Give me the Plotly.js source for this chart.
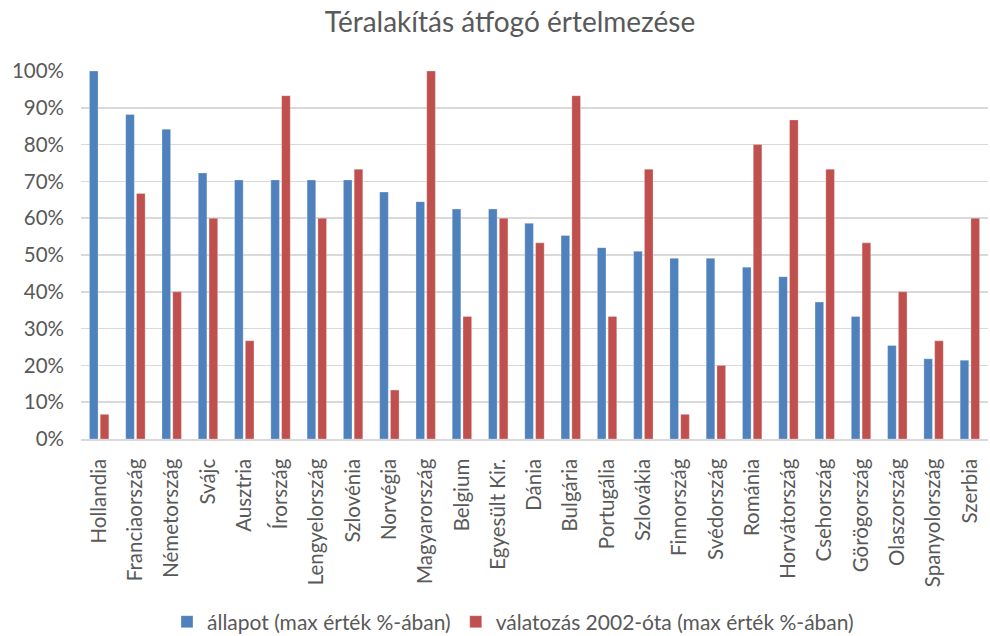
<!DOCTYPE html>
<html>
<head>
<meta charset="utf-8">
<script src="https://cdn.plot.ly/plotly-3.0.1.min.js"></script>
<style>
  html, body { margin: 0; padding: 0; background: #fff; }
  #chart { width: 990px; height: 636px; }
</style>
</head>
<body>
<div id="chart"></div>
<script>
const countries = ["Hollandia", "Franciaország", "Németország", "Svájc", "Ausztria", "Írország",
  "Lengyelország", "Szlovénia", "Norvégia", "Magyarország", "Belgium", "Egyesült Kir.",
  "Dánia", "Bulgária", "Portugália", "Szlovákia", "Finnország", "Svédország", "Románia",
  "Horvátország", "Csehország", "Görögország", "Olaszország", "Spanyolország", "Szerbia"];

const allapot = [1.000, 0.882, 0.842, 0.723, 0.704, 0.704, 0.704, 0.704, 0.671, 0.645, 0.625,
  0.625, 0.586, 0.553, 0.520, 0.510, 0.491, 0.491, 0.467, 0.441, 0.372, 0.333, 0.254, 0.218, 0.214];

const valtozas = [0.067, 0.667, 0.400, 0.600, 0.267, 0.933, 0.600, 0.733, 0.133, 1.000, 0.333,
  0.600, 0.533, 0.933, 0.333, 0.733, 0.067, 0.200, 0.800, 0.867, 0.733, 0.533, 0.400, 0.267, 0.600];

const seriesNames = ["állapot (max érték %-ában)", "válatozás 2002-óta (max érték %-ában)"];
const titleText = "Téralakítás átfogó értelmezése";

const FONT = "Lato, 'Open Sans', sans-serif";
const GREY = "#595959";

const traces = [
  { type: "bar", name: seriesNames[0], x: countries, y: allapot,
    marker: { color: "#4F81BD", line: { color: "rgba(255,255,255,0.35)", width: 0.8 } } },
  { type: "bar", name: seriesNames[1], x: countries, y: valtozas,
    marker: { color: "#C0504D", line: { color: "rgba(255,255,255,0.35)", width: 0.8 } } }
];

const layout = {
  width: 990, height: 636,
  margin: { l: 81, r: 2, t: 71, b: 197 },
  paper_bgcolor: "#fff", plot_bgcolor: "#fff",
  font: { family: FONT, color: GREY, size: 21 },
  title: { text: titleText, x: 510 / 990, xanchor: "center", xref: "container",
           y: 1 - 22 / 636, yref: "container", yanchor: "middle",
           font: { family: FONT, size: 28, color: GREY } },
  barmode: "group", bargap: 0.405, bargroupgap: 0.2,
  xaxis: { tickangle: -90, showgrid: false, showline: true, linecolor: "#d9d9d9", linewidth: 1.5,
           ticks: "", ticklabelstandoff: 10,
           tickfont: { family: FONT, size: 20.5, color: GREY }, automargin: false },
  yaxis: { range: [0, 1], dtick: 0.1, tickformat: ".0%", showgrid: true, gridcolor: "#d9d9d9",
           gridwidth: 1.5, zeroline: false, ticks: "", ticklabelstandoff: 16,
           tickfont: { family: FONT, size: 20.5, color: GREY }, automargin: false },
  legend: { orientation: "h", x: 513 / 990, xanchor: "center", xref: "container",
            y: 0.022, yref: "container", yanchor: "middle",
            font: { family: FONT, size: 21, color: GREY }, itemwidth: 30, traceorder: "normal" },
  showlegend: true
};

Plotly.newPlot("chart", traces, layout, { displayModeBar: false, staticPlot: true });
</script>
</body>
</html>
